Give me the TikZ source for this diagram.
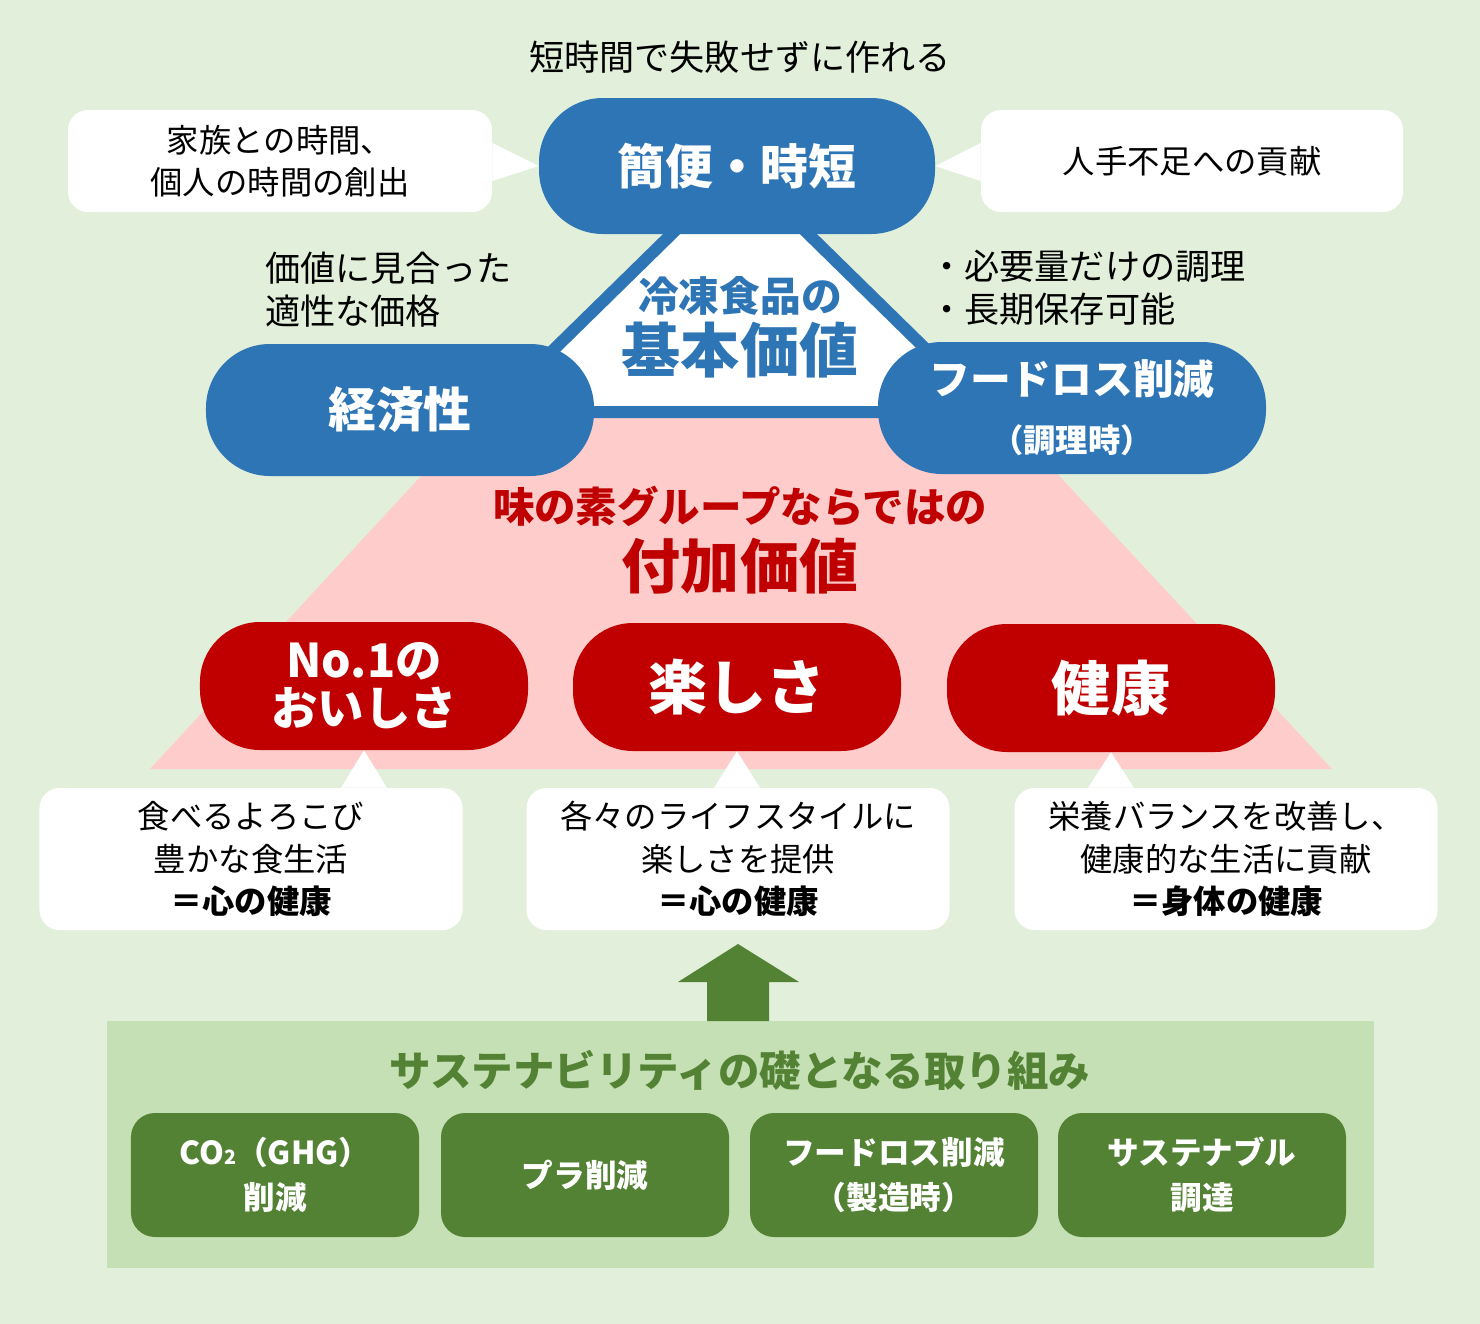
\documentclass[tikz,border=0pt]{standalone}
\usepackage{fontspec}
\setmainfont{Noto Sans CJK JP}
\definecolor{bggreen}{HTML}{E2EFDA}
\definecolor{valblue}{HTML}{2E75B6}
\definecolor{valred}{HTML}{C00000}
\definecolor{valpink}{HTML}{FFCCCC}
\definecolor{susgreen}{HTML}{548235}
\definecolor{susback}{HTML}{C5E0B4}
\newcommand{\fs}[2]{\fontsize{#1}{#2}\selectfont}
\tikzset{
  bluepill/.style={fill=valblue, rounded corners=16mm, minimum width=97mm, minimum height=33mm, text=white, align=center, font=\bfseries\fs{34}{38}},
  redpill/.style={fill=valred, rounded corners=15mm, minimum width=82mm, minimum height=32mm, text=white, align=center},
  callout/.style={fill=white, rounded corners=5mm, align=center, font=\fs{23}{30}},
  susbox/.style={fill=susgreen, rounded corners=6mm, minimum width=72mm, minimum height=31mm, text=white, align=center, font=\bfseries\fs{22.5}{32}},
  plain/.style={inner sep=0pt, align=center}
}
\begin{document}
\begin{tikzpicture}[x=0.25mm, y=-0.25mm]
  \fill[bggreen] (0,0) rectangle (1480,1324);

  % pyramid behind the values
  \fill[valpink] (484,408) -- (996,408) -- (1332,769) -- (150,769) -- cycle;
  \filldraw[fill=white, draw=valblue, line width=3mm] (740,167) -- (490,412) -- (990,412) -- cycle;

  \node (top) at (740,57) [plain, font=\fs{25}{30}] {短時間で失敗せずに作れる};

  \node (kanben) at (737,166) [bluepill, minimum width=99mm, minimum height=34mm] {簡便・時短};
  \node (keizai) at (400,410) [bluepill] {経済性};
  \node (foodloss) at (1072,408) [bluepill, font=\bfseries\fs{29}{40}] {フードロス削減\\[0.5mm]{\fs{23}{30}（調理時）}};

  \node (kihon1) at (740,296) [plain, text=valblue, font=\bfseries\fs{29}{34}] {冷凍食品の};
  \node (kihon2) at (740,350) [plain, text=valblue, font=\bfseries\fs{42}{46}] {基本価値};

  \node (famcall) at (280,161) [callout, minimum width=106mm, minimum height=25.5mm] {家族との時間、\\個人の時間の創出};
  \node (labor) at (1192,161) [callout, minimum width=105.5mm, minimum height=25.5mm] {人手不足への貢献};
  \fill[white] ([yshift=4.5mm]famcall.east) -- (kanben.west) -- ([yshift=-5mm]famcall.east) -- cycle;
  \fill[white] ([yshift=4.5mm]labor.west) -- (kanben.east) -- ([yshift=-5mm]labor.west) -- cycle;

  \node (price) at (265,290) [plain, anchor=west, align=left, font=\fs{25}{30.5}] {価値に見合った\\適性な価格};
  \node (waste) at (929,288) [plain, anchor=west, align=left, font=\fs{25}{30.5}] {・必要量だけの調理\\・長期保存可能};

  \node (fuka1) at (740,506) [plain, text=valred, font=\bfseries\fs{29.5}{34}] {味の素グループならではの};
  \node (fuka2) at (740,566) [plain, text=valred, font=\bfseries\fs{42}{46}] {付加価値};

  \node (oishisa) at (364,686) [redpill, font=\bfseries\fs{33}{34}] {No.1の\\おいしさ};
  \node (tanoshisa) at (737,687) [redpill, font=\bfseries\fs{42}{46}] {\raisebox{1.5mm}{楽しさ}};
  \node (kenko) at (1111,688) [redpill, font=\bfseries\fs{42}{46}] {\raisebox{1.5mm}{健康}};

  \node (oishicall) at (251,859) [callout, minimum width=105.75mm, minimum height=35.5mm] {食べるよろこび\\豊かな食生活\\\textbf{＝心の健康}};
  \node (tanocall) at (738,859) [callout, minimum width=105.75mm, minimum height=35.5mm] {各々のライフスタイルに\\楽しさを提供\\\textbf{＝心の健康}};
  \node (kenkocall) at (1226,859) [callout, minimum width=105.75mm, minimum height=35.5mm] {栄養バランスを改善し、\\健康的な生活に貢献\\\textbf{＝身体の健康}};
  \foreach \p/\c in {oishisa/oishicall, tanoshisa/tanocall, kenko/kenkocall}
    \fill[white] ([xshift=-5.75mm]\p.south |- \c.north) -- (\p.south) -- ([xshift=5.75mm]\p.south |- \c.north) -- cycle;

  % foundation
  \fill[susback] (107,1021) rectangle (1374,1268);
  \fill[susgreen] (707,1021) -- (707,982) -- (678,982) -- (738,944) -- (799,982) -- (769,982) -- (769,1021) -- cycle;
  \node (sustitle) at (740,1070) [plain, text=susgreen, font=\bfseries\fs{29.5}{34}] {サステナビリティの礎となる取り組み};

  \node (co2) at (275,1175) [susbox] {CO{\fs{14}{14}2}（GHG）\\削減};
  \node (plastic) at (585,1175) [susbox] {プラ削減};
  \node (foodloss2) at (894,1175) [susbox] {フードロス削減\\（製造時）};
  \node (procure) at (1202,1175) [susbox] {サステナブル\\調達};
\end{tikzpicture}
\end{document}
